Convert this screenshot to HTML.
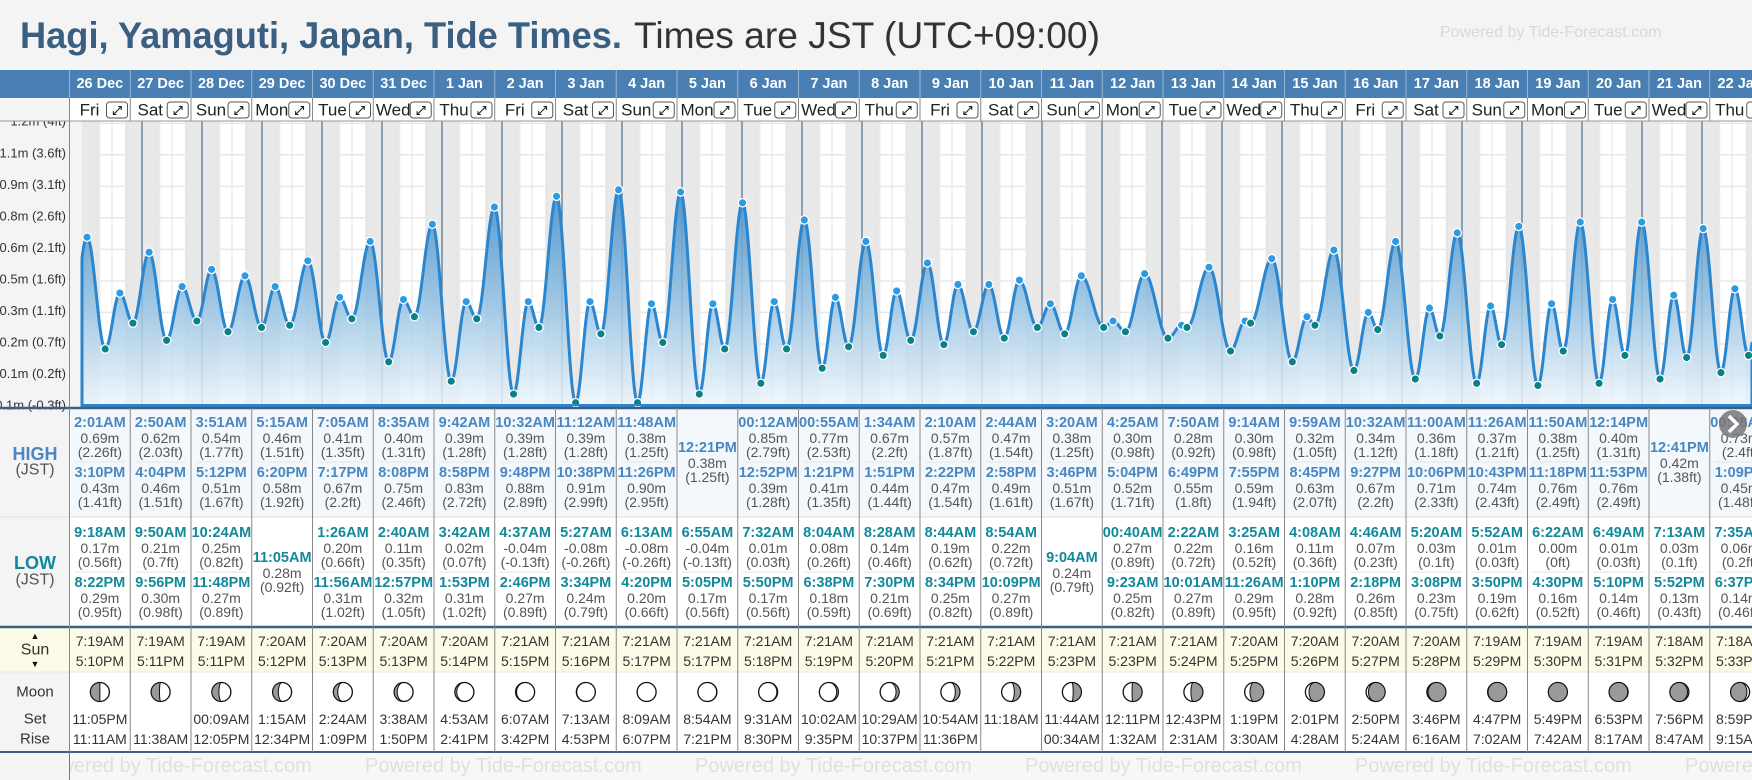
<!DOCTYPE html>
<html><head><meta charset="utf-8"><style>
html,body{margin:0;padding:0;background:#f4f4f4;}
svg{display:block;font-family:"Liberation Sans",Arial,sans-serif;}
</style></head><body>
<svg id="c" width="1752" height="780" viewBox="0 0 1752 780" xmlns="http://www.w3.org/2000/svg">
<defs>
<linearGradient id="fillg" gradientUnits="userSpaceOnUse" x1="0" y1="170" x2="0" y2="406">
<stop offset="0" stop-color="#3f86c2" stop-opacity="0.95"/>
<stop offset="0.55" stop-color="#8fbfe2" stop-opacity="0.85"/>
<stop offset="1" stop-color="#eef6fc" stop-opacity="0.8"/>
</linearGradient>
</defs>
<rect x="0" y="0" width="1752" height="780" fill="#f4f4f4"/>
<text x="20" y="48" font-size="37" font-weight="bold" fill="#3a5f80" textLength="602" lengthAdjust="spacingAndGlyphs">Hagi, Yamaguti, Japan, Tide Times.</text>
<text x="634" y="48" font-size="37" fill="#333" textLength="466" lengthAdjust="spacingAndGlyphs">Times are JST (UTC+09:00)</text>
<text x="1440" y="37" font-size="16" fill="#d8d8d8">Powered by Tide-Forecast.com</text>
</svg>
<script>
const dates=["26 Dec","27 Dec","28 Dec","29 Dec","30 Dec","31 Dec","1 Jan","2 Jan","3 Jan","4 Jan","5 Jan","6 Jan","7 Jan","8 Jan","9 Jan","10 Jan","11 Jan","12 Jan","13 Jan","14 Jan","15 Jan","16 Jan","17 Jan","18 Jan","19 Jan","20 Jan","21 Jan","22 Jan"];
const weekdays=["Fri","Sat","Sun","Mon","Tue","Wed","Thu","Fri","Sat","Sun","Mon","Tue","Wed","Thu","Fri","Sat","Sun","Mon","Tue","Wed","Thu","Fri","Sat","Sun","Mon","Tue","Wed","Thu"];
const highTimes=[["2:01AM","3:10PM"],["2:50AM","4:04PM"],["3:51AM","5:12PM"],["5:15AM","6:20PM"],["7:05AM","7:17PM"],["8:35AM","8:08PM"],["9:42AM","8:58PM"],["10:32AM","9:48PM"],["11:12AM","10:38PM"],["11:48AM","11:26PM"],["12:21PM"],["00:12AM","12:52PM"],["00:55AM","1:21PM"],["1:34AM","1:51PM"],["2:10AM","2:22PM"],["2:44AM","2:58PM"],["3:20AM","3:46PM"],["4:25AM","5:04PM"],["7:50AM","6:49PM"],["9:14AM","7:55PM"],["9:59AM","8:45PM"],["10:32AM","9:27PM"],["11:00AM","10:06PM"],["11:26AM","10:43PM"],["11:50AM","11:18PM"],["12:14PM","11:53PM"],["12:41PM"],["00:28AM","1:09PM"]];
const highM=[[0.69,0.43],[0.62,0.46],[0.54,0.51],[0.46,0.58],[0.41,0.67],[0.40,0.75],[0.39,0.83],[0.39,0.88],[0.39,0.91],[0.38,0.90],[0.38],[0.85,0.39],[0.77,0.41],[0.67,0.44],[0.57,0.47],[0.47,0.49],[0.38,0.51],[0.30,0.52],[0.28,0.55],[0.30,0.59],[0.32,0.63],[0.34,0.67],[0.36,0.71],[0.37,0.74],[0.38,0.76],[0.40,0.76],[0.42],[0.73,0.45]];
const highFt=[["2.26","1.41"],["2.03","1.51"],["1.77","1.67"],["1.51","1.92"],["1.35","2.2"],["1.31","2.46"],["1.28","2.72"],["1.28","2.89"],["1.28","2.99"],["1.25","2.95"],["1.25"],["2.79","1.28"],["2.53","1.35"],["2.2","1.44"],["1.87","1.54"],["1.54","1.61"],["1.25","1.67"],["0.98","1.71"],["0.92","1.8"],["0.98","1.94"],["1.05","2.07"],["1.12","2.2"],["1.18","2.33"],["1.21","2.43"],["1.25","2.49"],["1.31","2.49"],["1.38"],["2.4","1.48"]];
const lowTimes=[["9:18AM","8:22PM"],["9:50AM","9:56PM"],["10:24AM","11:48PM"],["11:05AM"],["1:26AM","11:56AM"],["2:40AM","12:57PM"],["3:42AM","1:53PM"],["4:37AM","2:46PM"],["5:27AM","3:34PM"],["6:13AM","4:20PM"],["6:55AM","5:05PM"],["7:32AM","5:50PM"],["8:04AM","6:38PM"],["8:28AM","7:30PM"],["8:44AM","8:34PM"],["8:54AM","10:09PM"],["9:04AM"],["00:40AM","9:23AM"],["2:22AM","10:01AM"],["3:25AM","11:26AM"],["4:08AM","1:10PM"],["4:46AM","2:18PM"],["5:20AM","3:08PM"],["5:52AM","3:50PM"],["6:22AM","4:30PM"],["6:49AM","5:10PM"],["7:13AM","5:52PM"],["7:35AM","6:37PM"]];
const lowM=[[0.17,0.29],[0.21,0.30],[0.25,0.27],[0.28],[0.20,0.31],[0.11,0.32],[0.02,0.31],[-0.04,0.27],[-0.08,0.24],[-0.08,0.20],[-0.04,0.17],[0.01,0.17],[0.08,0.18],[0.14,0.21],[0.19,0.25],[0.22,0.27],[0.24],[0.27,0.25],[0.22,0.27],[0.16,0.29],[0.11,0.28],[0.07,0.26],[0.03,0.23],[0.01,0.19],[0.00,0.16],[0.01,0.14],[0.03,0.13],[0.06,0.14]];
const lowFt=[["0.56","0.95"],["0.7","0.98"],["0.82","0.89"],["0.92"],["0.66","1.02"],["0.35","1.05"],["0.07","1.02"],["-0.13","0.89"],["-0.26","0.79"],["-0.26","0.66"],["-0.13","0.56"],["0.03","0.56"],["0.26","0.59"],["0.46","0.69"],["0.62","0.82"],["0.72","0.89"],["0.79"],["0.89","0.82"],["0.72","0.89"],["0.52","0.95"],["0.36","0.92"],["0.23","0.85"],["0.1","0.75"],["0.03","0.62"],["0","0.52"],["0.03","0.46"],["0.1","0.43"],["0.2","0.46"]];
const sunRise=["7:19AM","7:19AM","7:19AM","7:20AM","7:20AM","7:20AM","7:20AM","7:21AM","7:21AM","7:21AM","7:21AM","7:21AM","7:21AM","7:21AM","7:21AM","7:21AM","7:21AM","7:21AM","7:21AM","7:20AM","7:20AM","7:20AM","7:20AM","7:19AM","7:19AM","7:19AM","7:18AM","7:18AM"];
const sunSet=["5:10PM","5:11PM","5:11PM","5:12PM","5:13PM","5:13PM","5:14PM","5:15PM","5:16PM","5:17PM","5:17PM","5:18PM","5:19PM","5:20PM","5:21PM","5:22PM","5:23PM","5:23PM","5:24PM","5:25PM","5:26PM","5:27PM","5:28PM","5:29PM","5:30PM","5:31PM","5:32PM","5:33PM"];
const moonSet=["11:05PM","","00:09AM","1:15AM","2:24AM","3:38AM","4:53AM","6:07AM","7:13AM","8:09AM","8:54AM","9:31AM","10:02AM","10:29AM","10:54AM","11:18AM","11:44AM","12:11PM","12:43PM","1:19PM","2:01PM","2:50PM","3:46PM","4:47PM","5:49PM","6:53PM","7:56PM","8:59PM"];
const moonRise=["11:11AM","11:38AM","12:05PM","12:34PM","1:09PM","1:50PM","2:41PM","3:42PM","4:53PM","6:07PM","7:21PM","8:30PM","9:35PM","10:37PM","11:36PM","","00:34AM","1:32AM","2:31AM","3:30AM","4:28AM","5:24AM","6:16AM","7:02AM","7:42AM","8:17AM","8:47AM","9:15AM"];
const moonIllum=[0.5,0.56,0.63,0.7,0.77,0.84,0.9,0.95,0.98,1.0,0.99,0.96,0.91,0.84,0.76,0.67,0.57,0.47,0.37,0.28,0.19,0.12,0.06,0.02,0.0,0.02,0.07,0.14];
const moonWaxing=[1,1,1,1,1,1,1,1,1,1,0,0,0,0,0,0,0,0,0,0,0,0,0,0,0,1,1,1];
const tickValues=[-0.1,0.047,0.193,0.34,0.486,0.633,0.78,0.926,1.073,1.22];
const tickLabels=["-0.1m (-0.3ft)","0.1m (0.2ft)","0.2m (0.7ft)","0.3m (1.1ft)","0.5m (1.6ft)","0.6m (2.1ft)","0.8m (2.6ft)","0.9m (3.1ft)","1.1m (3.6ft)","1.2m (4ft)"];
const preExtreme=[-1,19.8,0.29];
const postExtreme=[28,1.3,0.70];

const NS="http://www.w3.org/2000/svg";
const svg=document.getElementById('c');
function mk(tag,attrs,parent){const e=document.createElementNS(NS,tag);for(const k in attrs)e.setAttribute(k,attrs[k]);(parent||svg).appendChild(e);return e;}
function txt(x,y,s,size,color,weight,anchor){const e=mk('text',{x:x,y:y,'font-size':size,fill:color,'font-weight':weight||'normal','text-anchor':anchor||'middle','dominant-baseline':'central'});e.textContent=s;return e;}
function hrs(t){const m=t.match(/(\d+):(\d+)(AM|PM)/);let h=parseInt(m[1],10)%12;if(m[3]==='PM')h+=12;return h+parseInt(m[2],10)/60;}
const X=(d,h)=>82+60*d+2.5*h;
const Y=v=>407-(v+0.1)*215;
const colX=i=>69.5+60.75*i;
const CW=60.75, TOP=121, BOT=406;

let e=mk('rect',{x:82,y:TOP,width:1670,height:BOT-TOP,fill:'#ffffff'});


for(let d=0;d<=28;d++){
  const prevSet=d>0?hrs(sunSet[d-1]):17.2;
  const rise=d<sunRise.length?hrs(sunRise[d]):7.3;
  const x1=Math.max(82,X(d-1,prevSet)), x2=X(d,rise);
  const b=mk('rect',{x:x1,y:TOP,width:Math.max(0,x2-x1),height:BOT-TOP,fill:'#e9e9e9'});
  
  
}
for(let d=0;d<28;d++){for(const h of [6,12,18]){
  const l=mk('line',{x1:X(d,h),x2:X(d,h),y1:TOP,y2:BOT,stroke:'#e4e4e4','stroke-width':1});
  
  
}}
tickValues.forEach(v=>{
  const l=mk('line',{x1:82,x2:1752,y1:Y(v),y2:Y(v),stroke:'#e8e8e8','stroke-width':1.5});
  
  
});
for(let d=1;d<28;d++){
  const l=mk('line',{x1:X(d,0),x2:X(d,0),y1:TOP,y2:BOT,stroke:'#4f6f8e','stroke-width':1.2});
  
  
}
const ext=[];
ext.push({d:preExtreme[0],h:preExtreme[1],v:preExtreme[2],hi:false});
for(let d=0;d<dates.length;d++){
  highTimes[d].forEach((t,i)=>ext.push({d:d,h:hrs(t),v:highM[d][i],hi:true}));
  lowTimes[d].forEach((t,i)=>ext.push({d:d,h:hrs(t),v:lowM[d][i],hi:false}));
}
ext.push({d:postExtreme[0],h:postExtreme[1],v:postExtreme[2],hi:true});
ext.forEach(p=>p.t=p.d*24+p.h);
ext.sort((a,b)=>a.t-b.t);
function level(t){
  for(let i=0;i<ext.length-1;i++){const a=ext[i],b=ext[i+1];
    if(t>=a.t&&t<=b.t){const f=(t-a.t)/(b.t-a.t);return a.v+(b.v-a.v)*(1-Math.cos(Math.PI*f))/2;}}
  return ext[ext.length-1].v;
}
let dpath='M82,'+BOT;
for(let x=82;x<=1752;x+=1){const t=(x-82)/2.5;dpath+=' L'+x+','+Y(level(t)).toFixed(1);}
dpath+=' L1752,'+BOT+' Z';
const area=mk('path',{d:dpath,fill:'url(#fillg)',stroke:'#2a86cf','stroke-width':3,'stroke-linejoin':'round'});


ext.forEach(p=>{
  const x=X(p.d,p.h); if(x<82||x>1752)return;
  const c=mk('circle',{cx:x,cy:Y(p.v),r:4.2,fill:p.hi?'#2d9be2':'#0a8088',stroke:'#ffffff','stroke-width':1.3});
  
  
});
e=mk('rect',{x:0,y:98,width:69,height:310,fill:'#f4f4f4'});


e=mk('line',{x1:69.5,x2:69.5,y1:98,y2:408,stroke:'#888','stroke-width':1});


tickValues.forEach((v,i)=>{
  const t=txt(66,Y(v)-2,tickLabels[i],13,'#333','normal','end');
  
  
});
e=mk('rect',{x:0,y:98,width:69,height:23,fill:'#f4f4f4'});


e=mk('rect',{x:0,y:70,width:1752,height:28,fill:'#4a7fb3'});


e=mk('rect',{x:69.5,y:98,width:1683,height:23,fill:'#ffffff'});


for(let i=0;i<dates.length;i++){
  const x=colX(i);
  let s=mk('line',{x1:x,x2:x,y1:70,y2:98,stroke:'#9ab8d6','stroke-width':1});
  
  
  s=mk('line',{x1:x,x2:x,y1:98,y2:121,stroke:'#888','stroke-width':1});
  
  
  const dt=txt(x+CW/2,84,dates[i],14.5,'#ffffff','bold');
  
  
  const wd=txt(x+20,110,weekdays[i],17,'#222','normal');
  
  
  const bx=mk('rect',{x:x+37,y:102,width:21,height:16,rx:3,fill:'#fff',stroke:'#555','stroke-width':1});
  
  
  const ic=txt(x+47.5,110.5,'⤢',12,'#222','bold');
  
  
}
e=mk('line',{x1:0,x2:1752,y1:121,y2:121,stroke:'#999','stroke-width':1});


e=mk('rect',{x:69.5,y:408,width:1683,height:109,fill:'#f3f8fd'});


e=mk('rect',{x:69.5,y:517,width:1683,height:109,fill:'#ffffff'});


e=mk('rect',{x:69.5,y:627,width:1683,height:45,fill:'#fbfbe8'});


e=mk('rect',{x:0,y:627,width:69.5,height:45,fill:'#fbfbe8'});


e=mk('rect',{x:69.5,y:672,width:1683,height:80,fill:'#ffffff'});


e=mk('rect',{x:0,y:752,width:1752,height:28,fill:'#f7f7f7'});


for(let k=0;k<6;k++){
  const w=txt(365+330*k-330,766,'Powered by Tide-Forecast.com',20,'#e0e0e0','normal','start');
  
  
}
e=mk('rect',{x:0,y:752,width:69,height:28,fill:'#f4f4f4'});


[[408,'#3d5f80',2.5],[517,'#e6e6e6',1.5],[627,'#3d5f80',2.5],[672,'#e8e8e8',1],[752,'#3d5f80',2]].forEach(r=>{
  const l=mk('line',{x1:0,x2:1752,y1:r[0],y2:r[0],stroke:r[1],'stroke-width':r[2]});
  
  
});
e=mk('line',{x1:82,x2:1752,y1:405,y2:405,stroke:'#2a86cf','stroke-width':2});


[[454,'HIGH',18,'#4a86c0','bold'],[470,'(JST)',16,'#555','normal'],[563,'LOW',18,'#12889a','bold'],[580,'(JST)',16,'#555','normal'],[650,'Sun',16,'#333','normal'],[636,'▲',9,'#111','normal'],[664,'▼',9,'#111','normal'],[692,'Moon',15,'#333','normal'],[719,'Set',15,'#333','normal'],[739,'Rise',15,'#333','normal']].forEach(r=>{
  const t=txt(35,r[0],r[1],r[2],r[3],r[4]);
  
  
});
e=mk('line',{x1:69.5,x2:69.5,y1:408,y2:780,stroke:'#777','stroke-width':1});


function entry(cx,y,time,m,ft,color,name){
  const a=txt(cx,y,time,14.5,color,'bold');
  
  
  const b=txt(cx,y+15,m.toFixed(2)+'m',14,'#555');
  
  
  const c=txt(cx,y+29,'('+ft+'ft)',14,'#555');
  
  
}
for(let i=0;i<dates.length;i++){
  const x=colX(i), cx=x+CW/2;
  const s=mk('line',{x1:x,x2:x,y1:408,y2:752,stroke:'#888','stroke-width':1});
  
  
  if(highTimes[i].length===2){
    entry(cx,423,highTimes[i][0],highM[i][0],highFt[i][0],'#4a86c0','high-tide');
    entry(cx,473,highTimes[i][1],highM[i][1],highFt[i][1],'#4a86c0','high-tide');
    const sp=mk('line',{x1:x+5,x2:x+CW-5,y1:462,y2:462,stroke:'#e2e8ee','stroke-width':1});
    
    
  } else entry(cx,448,highTimes[i][0],highM[i][0],highFt[i][0],'#4a86c0','high-tide');
  if(lowTimes[i].length===2){
    entry(cx,533,lowTimes[i][0],lowM[i][0],lowFt[i][0],'#12889a','low-tide');
    entry(cx,583,lowTimes[i][1],lowM[i][1],lowFt[i][1],'#12889a','low-tide');
    const sp=mk('line',{x1:x+5,x2:x+CW-5,y1:572,y2:572,stroke:'#e6e6e6','stroke-width':1});
    
    
  } else entry(cx,558,lowTimes[i][0],lowM[i][0],lowFt[i][0],'#12889a','low-tide');
  let t=txt(cx,641,sunRise[i],14,'#333');
  
  
  t=txt(cx,661,sunSet[i],14,'#333');
  
  
  t=txt(cx,719,moonSet[i],14,'#333');
  
  
  t=txt(cx,739,moonRise[i],14,'#333');
  
  
  const r=9.5, my=692, k=moonIllum[i], rx=Math.abs(2*k-1)*r;
  const mc=mk('circle',{cx:cx,cy:my,r:r,fill:'#ffffff',stroke:'#111','stroke-width':1.3});
  
  
  if(k<0.995){
    let p;
    if(moonWaxing[i]){p='M'+cx+','+(my-r)+' A'+r+','+r+' 0 0 0 '+cx+','+(my+r)+' A'+rx+','+r+' 0 0 '+(k<0.5?0:1)+' '+cx+','+(my-r)+' Z';}
    else{p='M'+cx+','+(my-r)+' A'+r+','+r+' 0 0 1 '+cx+','+(my+r)+' A'+rx+','+r+' 0 0 '+(k<0.5?1:0)+' '+cx+','+(my-r)+' Z';}
    const sh=mk('path',{d:p,fill:'#999',stroke:'#111','stroke-width':1});
    
    
  }
}
e=mk('circle',{cx:1733,cy:424,r:14,fill:'#777','fill-opacity':0.85});


e=mk('path',{d:'M1729,416 L1737,424 L1729,432',fill:'none',stroke:'#fff','stroke-width':3.5});


</script>
</body></html>
